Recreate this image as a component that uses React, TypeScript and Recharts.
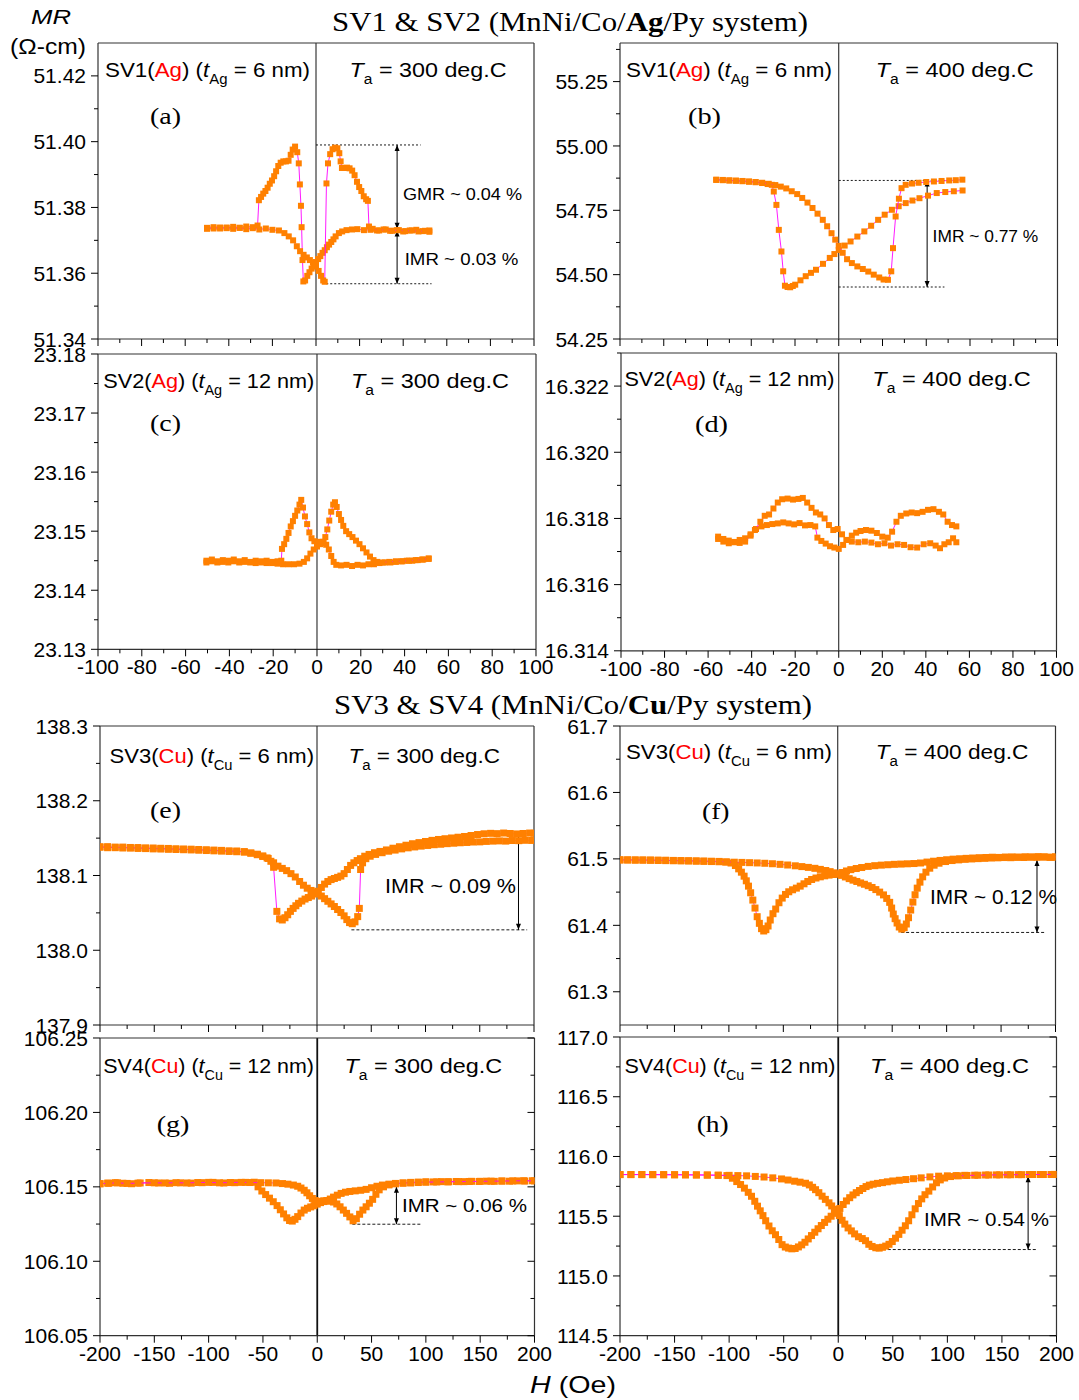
import React from 'react'
import { ScatterChart, Scatter, XAxis, YAxis, ReferenceLine } from 'recharts'

type Pt = [number, number]

const ORANGE = '#ff8000'
const MAGENTA = '#ff00ff'
const FRAME = '#333'
const SANS = '"Liberation Sans", Arial, sans-serif'
const SERIF = '"Liberation Serif", "Times New Roman", serif'

// field ticks (Oe), majors on even positions
const H_TICKS_100 = [-100, -90, -80, -70, -60, -50, -40, -30, -20, -10, 0, 10, 20, 30, 40, 50, 60, 70, 80, 90, 100]
const H_TICKS_200 = [-200, -175, -150, -125, -100, -75, -50, -25, 0, 25, 50, 75, 100, 125, 150, 175, 200]

// MR ticks per panel (Ω-cm), majors on even positions
const MR_TICKS_A = [51.34, 51.35, 51.36, 51.37, 51.38, 51.39, 51.4, 51.41, 51.42]
const MR_TICKS_B = [54.25, 54.375, 54.5, 54.625, 54.75, 54.875, 55.0, 55.125, 55.25, 55.375]
const MR_TICKS_C = [23.13, 23.135, 23.14, 23.145, 23.15, 23.155, 23.16, 23.165, 23.17, 23.175, 23.18]
const MR_TICKS_D = [16.314, 16.315, 16.316, 16.317, 16.318, 16.319, 16.32, 16.321, 16.322, 16.323]
const MR_TICKS_E = [137.9, 137.95, 138.0, 138.05, 138.1, 138.15, 138.2, 138.25, 138.3]
const MR_TICKS_F = [61.3, 61.35, 61.4, 61.45, 61.5, 61.55, 61.6, 61.65, 61.7]
const MR_TICKS_G = [106.05, 106.075, 106.1, 106.125, 106.15, 106.175, 106.2, 106.225, 106.25]
const MR_TICKS_H = [114.5, 114.75, 115, 115.25, 115.5, 115.75, 116, 116.25, 116.5, 116.75, 117]

// (a) SV1 Ag, 300 C
const aDown: Pt[] = [
  [-50, 51.3738], [-47, 51.3736], [-44, 51.3739], [-41, 51.3737], [-38, 51.3741], [-35, 51.3738], [-32, 51.3742],
  [-29, 51.374], [-26.8, 51.3745], [-26.2, 51.3822], [-25.2, 51.3832], [-24.2, 51.3842], [-23.2, 51.385],
  [-22.2, 51.386], [-21.2, 51.3872], [-20.2, 51.3882], [-19.2, 51.3895], [-18.3, 51.391], [-17.3, 51.3926],
  [-16.2, 51.3936], [-15, 51.394], [-13.8, 51.394], [-12.6, 51.3942], [-11.6, 51.396], [-10.7, 51.3976],
  [-9.6, 51.3985], [-8.6, 51.3968], [-7.9, 51.3934], [-7.4, 51.387], [-6.9, 51.3805], [-6.6, 51.374],
  [-6.2, 51.364], [-5.8, 51.3575], [-5, 51.3578], [-4, 51.3592], [-3, 51.3603], [-2, 51.3614], [-1, 51.3625],
  [0, 51.3634], [1, 51.3643], [2, 51.3652], [3, 51.3662], [4, 51.367], [5, 51.3679], [6, 51.3687], [7, 51.3695],
  [8, 51.3703], [9, 51.3712], [10.5, 51.3722], [12, 51.3727], [14, 51.3731], [16.5, 51.3733], [19, 51.3734],
  [22, 51.3731], [25, 51.3732], [28, 51.373], [31, 51.3733], [34, 51.3729], [37, 51.3731], [40, 51.3727],
  [43, 51.373], [46, 51.3732], [49, 51.3728], [52, 51.373],
]
const aUp: Pt[] = [
  [-50, 51.3735], [-47, 51.374], [-44, 51.3736], [-41, 51.3739], [-38, 51.3735], [-35, 51.3738], [-32, 51.3734],
  [-29, 51.3737], [-26, 51.3733], [-23, 51.3736], [-20, 51.3732], [-17, 51.373], [-14.5, 51.3722], [-12.5, 51.3712],
  [-10.5, 51.37], [-8.8, 51.3682], [-7.3, 51.3667], [-5.7, 51.3656], [-4.2, 51.3648], [-2.8, 51.364], [-1.4, 51.3632],
  [0, 51.362], [1.2, 51.3607], [2.3, 51.3592], [3.3, 51.3578], [4, 51.3574], [4.8, 51.3873], [5.5, 51.3934],
  [6.5, 51.3962], [7.6, 51.3977], [8.7, 51.3982], [9.8, 51.398], [10.7, 51.3965], [11.3, 51.394], [11.9, 51.392],
  [13, 51.392], [14.2, 51.3921], [15.4, 51.3919], [16.6, 51.3912], [17.7, 51.3898], [18.8, 51.3878], [19.8, 51.3862],
  [20.8, 51.385], [21.9, 51.3834], [23, 51.3825], [23.8, 51.382], [24.3, 51.3742], [26, 51.3735], [29, 51.373],
  [32, 51.3733], [35, 51.3729], [38, 51.3731], [41, 51.3728], [44, 51.373], [47, 51.3727], [50, 51.3729], [52, 51.3726],
]

// (b) SV1 Ag, 400 C
const bDown: Pt[] = [
  [-56, 54.869], [-53, 54.868], [-50, 54.866], [-47, 54.865], [-44, 54.863], [-41, 54.861], [-38, 54.859],
  [-35, 54.856], [-32.5, 54.852], [-30.6, 54.849], [-29.7, 54.823], [-28.5, 54.771], [-27.4, 54.674],
  [-26.2, 54.59], [-25.4, 54.513], [-24.6, 54.457], [-23.4, 54.452], [-22.2, 54.451], [-21, 54.456],
  [-19.9, 54.461], [-17.5, 54.478], [-15.1, 54.494], [-12.7, 54.507], [-10.4, 54.519], [-7.2, 54.542],
  [-4.1, 54.565], [-2, 54.58], [0, 54.596], [2.7, 54.613], [5.4, 54.629], [8.5, 54.648], [11.7, 54.668],
  [14.8, 54.69], [18, 54.713], [21, 54.733], [24.3, 54.752], [27.4, 54.766], [30.6, 54.778], [33.7, 54.788],
  [36.9, 54.797], [40.8, 54.807], [44.8, 54.817], [48.7, 54.821], [52.6, 54.824], [56.6, 54.827],
]
const bUp: Pt[] = [
  [-56, 54.868], [-53, 54.867], [-50, 54.866], [-47, 54.865], [-44, 54.864], [-41, 54.862], [-38, 54.86],
  [-35, 54.857], [-32, 54.853], [-29, 54.848], [-26.5, 54.842], [-24, 54.835], [-21.5, 54.824], [-19, 54.813],
  [-16.7, 54.798], [-14.3, 54.78], [-12, 54.759], [-9.7, 54.737], [-7.3, 54.713], [-5.3, 54.688], [-3.3, 54.661],
  [-1.6, 54.636], [0, 54.612], [1.8, 54.585], [3.8, 54.56], [6, 54.545], [8.5, 54.532], [11, 54.522],
  [13.5, 54.512], [16, 54.5], [18.5, 54.489], [20.5, 54.481], [22.5, 54.48], [24, 54.513], [24.8, 54.603],
  [26, 54.726], [27.5, 54.795], [28.7, 54.836], [30.6, 54.849], [33.5, 54.854], [36.5, 54.857], [40, 54.86],
  [43.5, 54.862], [47, 54.864], [50.5, 54.866], [53.5, 54.867], [56.5, 54.869],
]

// (c) SV2 Ag, 300 C
const cA: Pt[] = [
  [-50.5, 23.145], [-48, 23.1452], [-45.5, 23.1449], [-43, 23.1451], [-40.5, 23.145], [-38, 23.1452],
  [-35.5, 23.1449], [-33, 23.1451], [-30.5, 23.1448], [-28, 23.145], [-25.5, 23.1449], [-23, 23.145],
  [-20.5, 23.1448], [-18, 23.1449], [-16.3, 23.145], [-16, 23.147], [-15, 23.1478], [-14, 23.1487],
  [-13, 23.1497], [-12, 23.1508], [-11, 23.1517], [-10, 23.1526], [-9, 23.1535], [-8, 23.1545], [-7.2, 23.1553],
  [-6.4, 23.154], [-5.5, 23.1525], [-4.5, 23.1512], [-3.5, 23.1498], [-2.5, 23.1488], [-1.2, 23.1483],
  [0, 23.1481], [1.5, 23.1482], [3, 23.148], [4.2, 23.1477], [5.4, 23.1469], [6.5, 23.1458], [7.6, 23.1448],
  [8.8, 23.1443], [11, 23.1442], [13.5, 23.1443], [16, 23.1441], [18.5, 23.1443], [21, 23.1442], [23.5, 23.1444],
  [26, 23.1444], [28.5, 23.1446], [31, 23.1447], [33.5, 23.1447], [36, 23.1448], [38.5, 23.1449], [41, 23.145],
  [43.5, 23.145], [46, 23.1451], [48.5, 23.1452], [51, 23.1453],
]
const cB: Pt[] = [
  [-50.5, 23.1447], [-48, 23.1449], [-45.5, 23.1447], [-43, 23.1448], [-40.5, 23.1447], [-38, 23.1449],
  [-35.5, 23.1447], [-33, 23.1448], [-30.5, 23.1447], [-28, 23.1446], [-25.5, 23.1447], [-23, 23.1446],
  [-20.5, 23.1446], [-18, 23.1445], [-15.5, 23.1444], [-13, 23.1444], [-10.5, 23.1444], [-8, 23.1445],
  [-6, 23.1448], [-4.5, 23.1454], [-3, 23.1462], [-1.5, 23.1469], [0, 23.1474], [1.5, 23.1478], [2.8, 23.1482],
  [3.8, 23.149], [4.7, 23.1503], [5.6, 23.1518], [6.5, 23.1533], [7.4, 23.1545], [8.2, 23.1549], [9, 23.1541],
  [10, 23.1529], [11, 23.1519], [12, 23.1509], [13.3, 23.15], [14.7, 23.1495], [16.2, 23.149], [17.8, 23.1484],
  [19.4, 23.1478], [21, 23.1471], [22.6, 23.1464], [24.2, 23.1457], [25.8, 23.1451], [27.5, 23.1448], [30, 23.1447],
  [33, 23.1448], [36, 23.1449], [39, 23.1449], [42, 23.145], [45, 23.1451], [48, 23.1452], [51, 23.1454],
]

// (d) SV2 Ag, 400 C
const dA: Pt[] = [
  [-55.4, 16.31738], [-53, 16.3173], [-50.5, 16.31725], [-48, 16.31729], [-45.5, 16.31726], [-43, 16.3174],
  [-40.5, 16.31752], [-38, 16.31768], [-35.5, 16.31776], [-33, 16.3178], [-30.5, 16.31783], [-28, 16.31785],
  [-25.5, 16.31788], [-23, 16.31785], [-20.5, 16.31782], [-18, 16.31786], [-15.5, 16.31779], [-13, 16.3178],
  [-10.8, 16.31776], [-9.8, 16.31742], [-8, 16.31732], [-6, 16.31724], [-4, 16.31716], [-2, 16.31712],
  [0, 16.31708], [2, 16.3172], [4, 16.31735], [6, 16.31748], [8, 16.31757], [10, 16.31762], [12.5, 16.31765],
  [15, 16.31763], [17.5, 16.31756], [20, 16.31745], [22.5, 16.31742], [24.5, 16.3176], [26.5, 16.3179],
  [28.5, 16.31808], [31, 16.31815], [33.5, 16.31818], [36, 16.31816], [38.5, 16.3182], [41, 16.31826],
  [43.5, 16.31828], [46, 16.3182], [48, 16.31812], [50, 16.3179], [52, 16.3178], [54, 16.31776],
]
const dB: Pt[] = [
  [-55.4, 16.31745], [-53, 16.31738], [-50.5, 16.31733], [-48, 16.31728], [-45.5, 16.31735], [-43, 16.3173],
  [-40.5, 16.31748], [-38.5, 16.31765], [-36, 16.3179], [-34, 16.31808], [-32, 16.31812], [-30, 16.3183],
  [-28, 16.31848], [-26, 16.31858], [-23.5, 16.3186], [-21, 16.31857], [-18.5, 16.31859], [-16.5, 16.31862],
  [-14.5, 16.31848], [-12.5, 16.31832], [-10.5, 16.31818], [-8.5, 16.31812], [-6.5, 16.318], [-4.5, 16.3178],
  [-2.5, 16.31765], [-0.5, 16.31768], [1.5, 16.31752], [3.5, 16.31735], [6, 16.3173], [9, 16.31728],
  [12, 16.3173], [15, 16.31727], [18, 16.31722], [21, 16.31725], [24, 16.31718], [27, 16.31722], [30, 16.3172],
  [33, 16.31713], [36, 16.31712], [39, 16.31722], [42, 16.31725], [44.5, 16.31718], [46.5, 16.3171],
  [48.5, 16.31722], [50.5, 16.31728], [52.5, 16.3174], [54, 16.31728],
]

// (e) SV3 Cu, 300 C
const eA: Pt[] = [
  [-200, 138.1385], [-193, 138.1372], [-186, 138.138], [-179, 138.1368], [-172, 138.1375], [-165, 138.1362],
  [-158, 138.137], [-151, 138.1356], [-144, 138.1364], [-137, 138.135], [-130, 138.1358], [-123, 138.1345],
  [-116, 138.1352], [-109, 138.1338], [-102, 138.1345], [-95, 138.133], [-88, 138.1336], [-81, 138.1322],
  [-74, 138.1328], [-67, 138.1312], [-61, 138.1302], [-55, 138.1285], [-50, 138.1262], [-46, 138.1235],
  [-42.5, 138.119], [-40, 138.111], [-37, 138.052], [-34.5, 138.042], [-32, 138.0405], [-29.5, 138.0435],
  [-27, 138.0475], [-24.5, 138.052], [-22, 138.056], [-19.5, 138.0595], [-17, 138.0628], [-14, 138.0658],
  [-11, 138.0685], [-8, 138.0705], [-5, 138.0725], [-2, 138.0752], [1, 138.079], [4, 138.084], [7, 138.0885],
  [10, 138.092], [13, 138.0945], [16, 138.096], [19, 138.0975], [22, 138.0992], [25, 138.1025], [28, 138.108],
  [31, 138.1135], [34, 138.117], [37, 138.12], [40, 138.1225], [44, 138.1258], [48, 138.1282], [53, 138.1305],
  [58, 138.1322], [64, 138.1342], [70, 138.1365], [76, 138.1385], [82, 138.1405], [88, 138.1425], [94, 138.144],
  [100, 138.1455], [106, 138.147], [112, 138.1482], [118, 138.1492], [124, 138.1502], [130, 138.1512],
  [136, 138.1522], [142, 138.1535], [148, 138.1548], [154, 138.1558], [160, 138.1564], [166, 138.156],
  [172, 138.1568], [178, 138.1562], [184, 138.1556], [190, 138.1562], [196, 138.1568], [200, 138.1565],
]
const eB: Pt[] = [
  [-200, 138.1378], [-193, 138.1386], [-186, 138.1372], [-179, 138.138], [-172, 138.1366], [-165, 138.1374],
  [-158, 138.136], [-151, 138.1368], [-144, 138.1354], [-137, 138.1362], [-130, 138.1348], [-123, 138.1355],
  [-116, 138.1342], [-109, 138.1348], [-102, 138.1334], [-95, 138.134], [-88, 138.1326], [-81, 138.133],
  [-74, 138.1318], [-67, 138.132], [-61, 138.1298], [-55, 138.1278], [-50, 138.1255], [-45, 138.1228],
  [-40, 138.117], [-36, 138.1125], [-32, 138.1095], [-28, 138.1065], [-24, 138.1025], [-20, 138.098],
  [-16, 138.092], [-12.5, 138.087], [-9, 138.083], [-5.5, 138.08], [-2, 138.078], [1, 138.076], [4, 138.0725],
  [7, 138.069], [10, 138.0655], [13, 138.062], [16, 138.0585], [19, 138.0545], [22, 138.0505], [25, 138.046],
  [27.5, 138.041], [30, 138.037], [32.5, 138.0355], [35, 138.038], [37.5, 138.045], [39, 138.056], [40.2, 138.108],
  [42, 138.117], [45, 138.1225], [49, 138.1258], [54, 138.1282], [60, 138.1305], [66, 138.1325], [72, 138.134],
  [78, 138.1356], [84, 138.137], [90, 138.1382], [96, 138.1393], [102, 138.1402], [108, 138.1412], [114, 138.1418],
  [120, 138.1426], [126, 138.1432], [132, 138.1438], [138, 138.1442], [144, 138.1448], [150, 138.145],
  [156, 138.1456], [162, 138.146], [168, 138.1463], [174, 138.146], [180, 138.1468], [186, 138.1466],
  [192, 138.1471], [198, 138.1469],
]

// (f) SV3 Cu, 400 C
const fA: Pt[] = [
  [-200, 61.4988], [-193, 61.4982], [-186, 61.4986], [-179, 61.498], [-172, 61.4984], [-165, 61.4976],
  [-158, 61.498], [-151, 61.4972], [-144, 61.4975], [-137, 61.4968], [-130, 61.4971], [-123, 61.4963],
  [-116, 61.4965], [-109, 61.4957], [-103, 61.4952], [-98, 61.4938], [-94, 61.49], [-91, 61.485], [-88.5, 61.48],
  [-86, 61.474], [-84, 61.467], [-82, 61.459], [-80, 61.449], [-78, 61.438], [-76, 61.426], [-74, 61.413],
  [-72, 61.403], [-70, 61.395], [-68, 61.3915], [-66, 61.3935], [-64, 61.399], [-62, 61.408], [-59.5, 61.4175],
  [-57, 61.4245], [-54, 61.434], [-51, 61.441], [-48, 61.4465], [-45, 61.4505], [-41.5, 61.4535], [-38, 61.456],
  [-34.5, 61.459], [-31, 61.4625], [-27.5, 61.466], [-24, 61.469], [-20, 61.4712], [-16, 61.473], [-12, 61.4745],
  [-8, 61.4756], [-4, 61.4765], [0, 61.4774], [4, 61.4795], [8, 61.4818], [12, 61.4838], [17, 61.4855],
  [22, 61.487], [28, 61.4887], [34, 61.4898], [40, 61.4906], [46, 61.4912], [52, 61.4918], [58, 61.4922],
  [64, 61.4926], [70, 61.493], [76, 61.4938], [82, 61.4952], [88, 61.4965], [94, 61.4977], [100, 61.4987],
  [106, 61.4996], [112, 61.5002], [118, 61.5008], [124, 61.5013], [130, 61.5018], [136, 61.5021], [142, 61.5025],
  [148, 61.5022], [154, 61.5028], [160, 61.503], [166, 61.5026], [172, 61.5032], [178, 61.5028], [184, 61.5034],
  [190, 61.503], [196, 61.5026], [200, 61.503],
]
const fB: Pt[] = [
  [-200, 61.4982], [-193, 61.4987], [-186, 61.498], [-179, 61.4985], [-172, 61.4978], [-165, 61.4982],
  [-158, 61.4974], [-151, 61.4977], [-144, 61.497], [-137, 61.4973], [-130, 61.4965], [-123, 61.4968],
  [-116, 61.496], [-109, 61.4962], [-102, 61.4955], [-95, 61.495], [-88, 61.4947], [-81, 61.4943], [-74, 61.4939],
  [-67, 61.4934], [-60, 61.4927], [-53, 61.4918], [-46, 61.4908], [-39, 61.4896], [-33, 61.4884], [-27, 61.4872],
  [-21, 61.4858], [-16, 61.4842], [-11, 61.4825], [-7, 61.4808], [-3.5, 61.479], [0, 61.4772], [3.5, 61.4752],
  [7, 61.4728], [10.5, 61.4703], [14, 61.468], [17.5, 61.466], [21, 61.4638], [24.5, 61.4618], [28, 61.4596],
  [31.5, 61.457], [35, 61.4538], [38.5, 61.45], [42, 61.4458], [45, 61.4405], [47.7, 61.4346], [49.5, 61.426],
  [51, 61.417], [52.7, 61.41], [54.5, 61.4035], [56.5, 61.3975], [58.8, 61.3943], [61, 61.3965], [63, 61.402],
  [65, 61.4115], [67, 61.423], [69, 61.435], [71, 61.446], [73, 61.456], [75.5, 61.465], [78, 61.473],
  [81, 61.48], [84.5, 61.486], [88.5, 61.4905], [93, 61.4935], [99, 61.496], [105, 61.4975], [111, 61.4985],
  [117, 61.4993], [123, 61.4999], [129, 61.5004], [135, 61.5008], [141, 61.5013], [147, 61.5016], [153, 61.502],
  [159, 61.5018], [165, 61.5024], [171, 61.5021], [177, 61.5027], [183, 61.5024], [189, 61.5028], [195, 61.5022],
  [200, 61.5026],
]

// (g) SV4 Cu, 300 C
const gA: Pt[] = [
  [-200, 106.1522], [-193, 106.1525], [-186, 106.1528], [-179, 106.1524], [-171, 106.1521], [-163, 106.1526],
  [-155, 106.1529], [-146, 106.1526], [-136, 106.1524], [-126, 106.1527], [-116, 106.1525], [-106, 106.1528],
  [-96, 106.153], [-86, 106.1526], [-76, 106.1528], [-66, 106.153], [-58, 106.1531], [-54.5, 106.15],
  [-51, 106.1472], [-47.5, 106.1448], [-44, 106.1424], [-40.5, 106.14], [-37, 106.1374], [-34, 106.1346],
  [-31, 106.1318], [-28, 106.1292], [-25.5, 106.1274], [-23, 106.127], [-20.5, 106.1282], [-18, 106.13],
  [-15, 106.1324], [-12, 106.1344], [-9, 106.1356], [-6, 106.1365], [-3, 106.1373], [0, 106.1384], [3, 106.1394],
  [6, 106.1401], [9, 106.1408], [12, 106.1418], [15, 106.1431], [18.5, 106.1444], [22, 106.1456], [26, 106.1464],
  [30, 106.1469], [35, 106.1473], [40, 106.1477], [45, 106.1483], [50, 106.1494], [55, 106.1504], [60, 106.1512],
  [66, 106.1518], [72, 106.1523], [79, 106.1527], [86, 106.153], [93, 106.1532], [100, 106.1534], [107, 106.1533],
  [114, 106.1535], [121, 106.1534], [128, 106.1536], [135, 106.1535], [142, 106.1537], [149, 106.1536],
  [156, 106.1538], [163, 106.1537], [170, 106.1539], [177, 106.1538], [184, 106.154], [191, 106.1539], [198, 106.1541],
]
const gB: Pt[] = [
  [-200, 106.152], [-192, 106.1524], [-184, 106.1527], [-175, 106.1523], [-165, 106.1525], [-150, 106.1527],
  [-140, 106.1526], [-130, 106.1528], [-120, 106.1526], [-110, 106.1529], [-100, 106.153], [-90, 106.1527],
  [-80, 106.1529], [-70, 106.153], [-62, 106.1529], [-52, 106.1528], [-45, 106.1527], [-38, 106.1526],
  [-32, 106.1522], [-27, 106.1518], [-22, 106.1512], [-18, 106.1504], [-15, 106.1492], [-12, 106.1477],
  [-9.5, 106.146], [-7, 106.144], [-4.5, 106.1422], [-2, 106.1408], [0, 106.14], [3, 106.1403], [6, 106.1406],
  [9, 106.1406], [12, 106.1404], [15, 106.1398], [18, 106.1385], [21, 106.1366], [24, 106.1344], [27, 106.1322],
  [30, 106.1298], [33, 106.1272], [36, 106.1286], [39, 106.1316], [42, 106.1344], [45, 106.1366], [48, 106.139],
  [51, 106.1416], [54, 106.145], [57, 106.148], [61, 106.15], [66, 106.1513], [72, 106.152], [79, 106.1524],
  [86, 106.1526], [93, 106.1529], [100, 106.1531], [110, 106.1533], [120, 106.1534], [130, 106.1535],
  [140, 106.1536], [150, 106.1537], [160, 106.1538], [170, 106.1539], [180, 106.154], [190, 106.1541], [200, 106.154],
]

// (h) SV4 Cu, 400 C
const hA: Pt[] = [
  [-200, 115.849], [-190, 115.848], [-180, 115.849], [-170, 115.848], [-160, 115.848], [-150, 115.847],
  [-140, 115.847], [-130, 115.846], [-120, 115.845], [-110, 115.843], [-102, 115.84], [-97, 115.818],
  [-93, 115.79], [-89.5, 115.765], [-86, 115.735], [-82.5, 115.7], [-79.5, 115.667], [-76.5, 115.625],
  [-74, 115.584], [-71.5, 115.545], [-69, 115.505], [-66.5, 115.462], [-63.5, 115.418], [-60.5, 115.378],
  [-57.5, 115.345], [-54.5, 115.305], [-51.5, 115.262], [-48.5, 115.242], [-45.5, 115.233], [-42.5, 115.227],
  [-39.5, 115.23], [-36.5, 115.243], [-33.5, 115.26], [-30.5, 115.282], [-27.5, 115.31], [-24.5, 115.338],
  [-21.5, 115.366], [-18.5, 115.395], [-15.5, 115.422], [-12.5, 115.448], [-9.5, 115.475], [-6.5, 115.5],
  [-3.5, 115.524], [-1, 115.54], [1.5, 115.565], [4.5, 115.598], [7.5, 115.628], [10.5, 115.655], [13.5, 115.678],
  [16.5, 115.697], [19.5, 115.715], [22.5, 115.732], [25.5, 115.748], [28.5, 115.76], [32, 115.768], [36, 115.775],
  [40.5, 115.781], [45, 115.788], [50, 115.795], [56, 115.801], [62, 115.807], [69, 115.814], [76, 115.821],
  [84, 115.829], [92, 115.835], [100, 115.838], [108, 115.84], [116, 115.842], [125, 115.843], [135, 115.845],
  [145, 115.846], [155, 115.847], [165, 115.848], [175, 115.849], [185, 115.849], [195, 115.849], [200, 115.849],
]
const hB: Pt[] = [
  [-200, 115.848], [-190, 115.849], [-180, 115.848], [-170, 115.848], [-160, 115.847], [-150, 115.847],
  [-140, 115.846], [-130, 115.845], [-120, 115.844], [-110, 115.843], [-100, 115.842], [-92, 115.84],
  [-84, 115.838], [-76, 115.833], [-68, 115.828], [-60, 115.821], [-52, 115.812], [-46, 115.803], [-40, 115.793],
  [-35, 115.785], [-30, 115.776], [-26.5, 115.762], [-23.5, 115.742], [-20.8, 115.722], [-17.8, 115.697],
  [-14.8, 115.668], [-11.8, 115.641], [-8.5, 115.612], [-6, 115.586], [-3.5, 115.558], [-1.2, 115.535],
  [1, 115.505], [3.5, 115.466], [6, 115.434], [9, 115.402], [12, 115.377], [15, 115.352], [18.5, 115.328],
  [22, 115.313], [25, 115.295], [28, 115.265], [31, 115.247], [34.4, 115.236], [37.5, 115.233], [40.5, 115.24],
  [43.5, 115.25], [46.5, 115.265], [49.5, 115.288], [52.5, 115.316], [55.5, 115.348], [58.5, 115.383],
  [61.5, 115.42], [64.5, 115.462], [67.5, 115.512], [70.5, 115.562], [73.5, 115.606], [76.5, 115.645],
  [79.5, 115.68], [83, 115.71], [86.5, 115.745], [90, 115.78], [93.5, 115.804], [97.5, 115.82], [103, 115.832],
  [110, 115.838], [118, 115.841], [128, 115.843], [138, 115.845], [148, 115.846], [158, 115.847], [168, 115.848],
  [178, 115.849], [188, 115.849], [198, 115.85],
]

type Note = { from: [number, number]; to: [number, number]; arrow?: boolean }
type PanelCfg = {
  box: [number, number, number, number]
  hDomain: [number, number]
  hTicks: number[]
  mrDomain: [number, number]
  mrTicks: number[]
  digits: number
  branches: Pt[][]
  hLabels: boolean
  inner: boolean
  marker: number
  zeroWidth: number
  dash: string
  notes: Note[]
}

const PANELS: PanelCfg[] = [
  {
    box: [97.5, 43.3, 533.5, 339.3], hDomain: [-100, 100], hTicks: H_TICKS_100, mrDomain: [51.34, 51.43],
    mrTicks: MR_TICKS_A, digits: 2, branches: [aDown, aUp], hLabels: false, inner: false, marker: 6, zeroWidth: 1, dash: '2 2',
    notes: [
      { from: [0, 51.399], to: [48, 51.399] },
      { from: [4.7, 51.3568], to: [53, 51.3568] },
      { from: [37.2, 51.3735], to: [37.2, 51.399], arrow: true },
      { from: [37.2, 51.373], to: [37.2, 51.3568], arrow: true },
    ],
  },
  {
    box: [620, 43.3, 1057.5, 339.3], hDomain: [-100, 100], hTicks: H_TICKS_100, mrDomain: [54.25, 55.4],
    mrTicks: MR_TICKS_B, digits: 2, branches: [bDown, bUp], hLabels: false, inner: false, marker: 6, zeroWidth: 1, dash: '2 2',
    notes: [
      { from: [0, 54.866], to: [50.3, 54.866] },
      { from: [0, 54.452], to: [48.3, 54.452] },
      { from: [40.4, 54.866], to: [40.4, 54.452], arrow: true },
    ],
  },
  {
    box: [98, 354, 536, 649.3], hDomain: [-100, 100], hTicks: H_TICKS_100, mrDomain: [23.13, 23.18],
    mrTicks: MR_TICKS_C, digits: 2, branches: [cA, cB], hLabels: true, inner: false, marker: 6, zeroWidth: 1, dash: '2 2',
    notes: [],
  },
  {
    box: [620.5, 352.7, 1056, 650.5], hDomain: [-100, 100], hTicks: H_TICKS_100, mrDomain: [16.314, 16.323],
    mrTicks: MR_TICKS_D, digits: 3, branches: [dA, dB], hLabels: true, inner: false, marker: 6, zeroWidth: 1, dash: '2 2',
    notes: [],
  },
  {
    box: [100, 726, 534, 1025], hDomain: [-200, 200], hTicks: H_TICKS_200, mrDomain: [137.9, 138.3],
    mrTicks: MR_TICKS_E, digits: 1, branches: [eA, eB], hLabels: false, inner: false, marker: 7, zeroWidth: 1, dash: '3 2',
    notes: [
      { from: [31.7, 138.0273], to: [193.7, 138.0273] },
      { from: [185.7, 138.152], to: [185.7, 138.0273], arrow: true },
    ],
  },
  {
    box: [620, 726, 1055.5, 1025], hDomain: [-200, 200], hTicks: H_TICKS_200, mrDomain: [61.25, 61.7],
    mrTicks: MR_TICKS_F, digits: 1, branches: [fA, fB], hLabels: false, inner: false, marker: 7, zeroWidth: 1, dash: '3 2',
    notes: [
      { from: [58.2, 61.3893], to: [190, 61.3893] },
      { from: [183, 61.4985], to: [183, 61.3893], arrow: true },
    ],
  },
  {
    box: [99.5, 1038.3, 534, 1336], hDomain: [-200, 200], hTicks: H_TICKS_200, mrDomain: [106.05, 106.25],
    mrTicks: MR_TICKS_G, digits: 2, branches: [gA, gB], hLabels: true, inner: true, marker: 7, zeroWidth: 1.8, dash: '3 2',
    notes: [
      { from: [32.3, 106.1249], to: [95.7, 106.1249] },
      { from: [72.9, 106.15], to: [72.9, 106.1249], arrow: true },
    ],
  },
  {
    box: [620, 1037.3, 1056.5, 1336], hDomain: [-200, 200], hTicks: H_TICKS_200, mrDomain: [114.5, 117],
    mrTicks: MR_TICKS_H, digits: 1, branches: [hA, hB], hLabels: true, inner: true, marker: 7, zeroWidth: 1.8, dash: '3 2',
    notes: [
      { from: [45.4, 115.221], to: [182.6, 115.221] },
      { from: [174, 115.835], to: [174, 115.221], arrow: true },
    ],
  },
]

// texts over the panels
const SAMPLE_LABELS = [
  { sv: 'SV1', el: 'Ag', t: '6', x: 105, y: 76.7, len: 205, tx: 349.6, tlen: 157, temp: '300', tag: '(a)', gx: 150, gy: 123.5, glen: 31 },
  { sv: 'SV1', el: 'Ag', t: '6', x: 626, y: 77.3, len: 206, tx: 875.8, tlen: 158, temp: '400', tag: '(b)', gx: 688, gy: 123.5, glen: 33 },
  { sv: 'SV2', el: 'Ag', t: '12', x: 103.3, y: 388.3, len: 211, tx: 351, tlen: 158, temp: '300', tag: '(c)', gx: 150, gy: 431, glen: 31 },
  { sv: 'SV2', el: 'Ag', t: '12', x: 624.4, y: 386, len: 210, tx: 872.3, tlen: 158.5, temp: '400', tag: '(d)', gx: 695, gy: 431.7, glen: 33 },
  { sv: 'SV3', el: 'Cu', t: '6', x: 109.5, y: 762.7, len: 204.5, tx: 348.5, tlen: 151.5, temp: '300', tag: '(e)', gx: 150, gy: 818.3, glen: 31 },
  { sv: 'SV3', el: 'Cu', t: '6', x: 626, y: 759, len: 206, tx: 875.8, tlen: 152.6, temp: '400', tag: '(f)', gx: 702, gy: 819, glen: 27.5 },
  { sv: 'SV4', el: 'Cu', t: '12', x: 103.3, y: 1072.7, len: 210.7, tx: 344.4, tlen: 157.7, temp: '300', tag: '(g)', gx: 156.7, gy: 1131.7, glen: 32.7 },
  { sv: 'SV4', el: 'Cu', t: '12', x: 624.4, y: 1072.7, len: 211.1, tx: 870, tlen: 159, temp: '400', tag: '(h)', gx: 696.7, gy: 1131.7, glen: 32 },
]

const MR_NOTES = [
  { s: 'GMR ~ 0.04 %', x: 403, y: 200, len: 119, fs: 16.5 },
  { s: 'IMR ~ 0.03 %', x: 404.7, y: 265, len: 113.6, fs: 16.5 },
  { s: 'IMR ~ 0.77 %', x: 932.6, y: 242.3, len: 105.7, fs: 16.5 },
  { s: 'IMR ~ 0.09 %', x: 385, y: 892.7, len: 131, fs: 20 },
  { s: 'IMR ~ 0.12 %', x: 930, y: 904, len: 127, fs: 20 },
  { s: 'IMR ~ 0.06 %', x: 402, y: 1211.7, len: 125, fs: 19 },
  { s: 'IMR ~ 0.54 %', x: 924, y: 1226, len: 125, fs: 18 },
]

const PAD_L = 100
const PAD_R = 30
const PAD_T = 20
const PAD_B = 40

const tickFont = { fontSize: 21, fontFamily: SANS, fill: '#000' }

const leftTick = (digits: number) => (p: any) => {
  const major = p.index % 2 === 0
  return (
    <g>
      <line x1={p.x} y1={p.y} x2={p.x - (major ? 7 : 4)} y2={p.y} stroke="#000" />
      {major && (
        <text x={p.x - 12} y={p.y} dy="0.36em" textAnchor="end" {...tickFont}>
          {Number(p.payload.value).toFixed(digits)}
        </text>
      )}
    </g>
  )
}

const bottomTick = (labels: boolean) => (p: any) => {
  const major = p.index % 2 === 0
  return (
    <g>
      <line x1={p.x} y1={p.y} x2={p.x} y2={p.y + (major ? 7 : 4)} stroke="#000" />
      {major && labels && (
        <text x={p.x} y={p.y + 25} textAnchor="middle" {...tickFont}>
          {p.payload.value}
        </text>
      )}
    </g>
  )
}

const topTick = (p: any) => {
  const major = p.index % 2 === 0
  return <line x1={p.x} y1={p.y} x2={p.x} y2={p.y + (major ? 7 : 4)} stroke="#000" />
}

const rightTick = (p: any) => {
  const major = p.index % 2 === 0
  return <line x1={p.x} y1={p.y} x2={p.x - (major ? 7 : 4)} y2={p.y} stroke="#000" />
}

const arrowShape = (p: any) => {
  const { x1, y1, x2, y2 } = p
  const d = y2 > y1 ? 1 : -1
  const head = (x: number, y: number, s: number) =>
    `M${x},${y} L${x - 2.5},${y - s * 6} L${x + 2.5},${y - s * 6} Z`
  return (
    <g>
      <line x1={x1} y1={y1} x2={x2} y2={y2} stroke="#000" strokeWidth={1} />
      <path d={head(x2, y2, d)} fill="#000" />
      <path d={head(x1, y1, -d)} fill="#000" />
    </g>
  )
}

const toRows = (b: Pt[]) => b.map(([h, r]) => ({ h, r }))

function Panel({ cfg }: { cfg: PanelCfg }) {
  const [x0, y0, x1, y1] = cfg.box
  const w = x1 - x0 + PAD_L + PAD_R
  const h = y1 - y0 + PAD_T + PAD_B
  const m = cfg.marker
  const square = (s: any) => <rect x={s.cx - m / 2} y={s.cy - m / 2} width={m} height={m} fill={ORANGE} />
  return (
    <div style={{ position: 'absolute', left: x0 - PAD_L, top: y0 - PAD_T }}>
      <ScatterChart width={w} height={h} margin={{ top: 0, right: 0, bottom: 0, left: 0 }}>
        <XAxis
          type="number" dataKey="h" domain={cfg.hDomain} ticks={cfg.hTicks} interval={0} allowDataOverflow
          height={PAD_B} stroke={FRAME} strokeWidth={1.2} tickSize={0} tickMargin={0} tickLine={false}
          tick={bottomTick(cfg.hLabels)}
        />
        <XAxis
          xAxisId="top" orientation="top" type="number" domain={cfg.hDomain} ticks={cfg.hTicks} interval={0}
          allowDataOverflow height={PAD_T} stroke={FRAME} strokeWidth={1.2} tickSize={0} tickMargin={0}
          tickLine={false} tick={cfg.inner ? topTick : false}
        />
        <YAxis
          type="number" dataKey="r" domain={cfg.mrDomain} ticks={cfg.mrTicks} interval={0} allowDataOverflow
          width={PAD_L} stroke={FRAME} strokeWidth={1.2} tickSize={0} tickMargin={0} tickLine={false}
          tick={leftTick(cfg.digits)}
        />
        <YAxis
          yAxisId="right" orientation="right" type="number" domain={cfg.mrDomain} ticks={cfg.mrTicks} interval={0}
          allowDataOverflow width={PAD_R} stroke={FRAME} strokeWidth={1.2} tickSize={0} tickMargin={0}
          tickLine={false} tick={cfg.inner ? rightTick : false}
        />
        <ReferenceLine x={0} stroke="#111" strokeWidth={cfg.zeroWidth} />
        {cfg.branches.map((b, i) => (
          <Scatter
            key={i}
            data={toRows(b)}
            fill={ORANGE}
            line={{ stroke: MAGENTA, strokeWidth: 0.9 }}
            lineType="joint"
            shape={square}
            isAnimationActive={false}
          />
        ))}
        {cfg.notes.map((n, i) =>
          n.arrow ? (
            <ReferenceLine
              key={'n' + i}
              segment={[{ x: n.from[0], y: n.from[1] }, { x: n.to[0], y: n.to[1] }]}
              shape={arrowShape}
              ifOverflow="visible"
            />
          ) : (
            <ReferenceLine
              key={'n' + i}
              segment={[{ x: n.from[0], y: n.from[1] }, { x: n.to[0], y: n.to[1] }]}
              stroke="#000"
              strokeWidth={0.9}
              strokeDasharray={cfg.dash}
              ifOverflow="visible"
            />
          ),
        )}
      </ScatterChart>
    </div>
  )
}

export default function App() {
  return (
    <div style={{ position: 'relative', width: 1079, height: 1400, background: '#fff', overflow: 'hidden' }}>
      <style>{'body{margin:0}'}</style>
      {PANELS.map((p, i) => (
        <Panel key={i} cfg={p} />
      ))}
      <svg width={1079} height={1400} style={{ position: 'absolute', left: 0, top: 0, pointerEvents: 'none' }}>
        <text x={332} y={30.7} fontSize={26.5} fontFamily={SERIF} textLength={476} lengthAdjust="spacingAndGlyphs">
          SV1 &amp; SV2 (MnNi/Co/<tspan fontWeight="bold">Ag</tspan>/Py system)
        </text>
        <text x={334} y={714} fontSize={26.5} fontFamily={SERIF} textLength={478} lengthAdjust="spacingAndGlyphs">
          SV3 &amp; SV4 (MnNi/Co/<tspan fontWeight="bold">Cu</tspan>/Py system)
        </text>
        <text x={31} y={24} fontSize={20} fontFamily={SANS} fontStyle="italic" textLength={40} lengthAdjust="spacingAndGlyphs">
          MR
        </text>
        <text x={10} y={54} fontSize={22} fontFamily={SANS} textLength={76} lengthAdjust="spacingAndGlyphs">
          (Ω-cm)
        </text>
        <text x={530} y={1393} fontSize={24} fontFamily={SANS} textLength={86} lengthAdjust="spacingAndGlyphs">
          <tspan fontStyle="italic">H</tspan> (Oe)
        </text>
        {SAMPLE_LABELS.map((l, i) => (
          <g key={i}>
            <text x={l.x} y={l.y} fontSize={21} fontFamily={SANS} textLength={l.len} lengthAdjust="spacingAndGlyphs">
              {l.sv}(<tspan fill="#ff0000">{l.el}</tspan>) (<tspan fontStyle="italic">t</tspan>
              <tspan dy={7} fontSize={14}>{l.el}</tspan>
              <tspan dy={-7}>{` = ${l.t} nm)`}</tspan>
            </text>
            <text x={l.tx} y={l.y} fontSize={21} fontFamily={SANS} textLength={l.tlen} lengthAdjust="spacingAndGlyphs">
              <tspan fontStyle="italic">T</tspan>
              <tspan dy={7} fontSize={14}>a</tspan>
              <tspan dy={-7}>{` = ${l.temp} deg.C`}</tspan>
            </text>
            <text x={l.gx} y={l.gy} fontSize={23} fontFamily={SERIF} textLength={l.glen} lengthAdjust="spacingAndGlyphs">
              {l.tag}
            </text>
          </g>
        ))}
        {MR_NOTES.map((n, i) => (
          <text key={i} x={n.x} y={n.y} fontSize={n.fs} fontFamily={SANS} textLength={n.len} lengthAdjust="spacingAndGlyphs">
            {n.s}
          </text>
        ))}
      </svg>
    </div>
  )
}
